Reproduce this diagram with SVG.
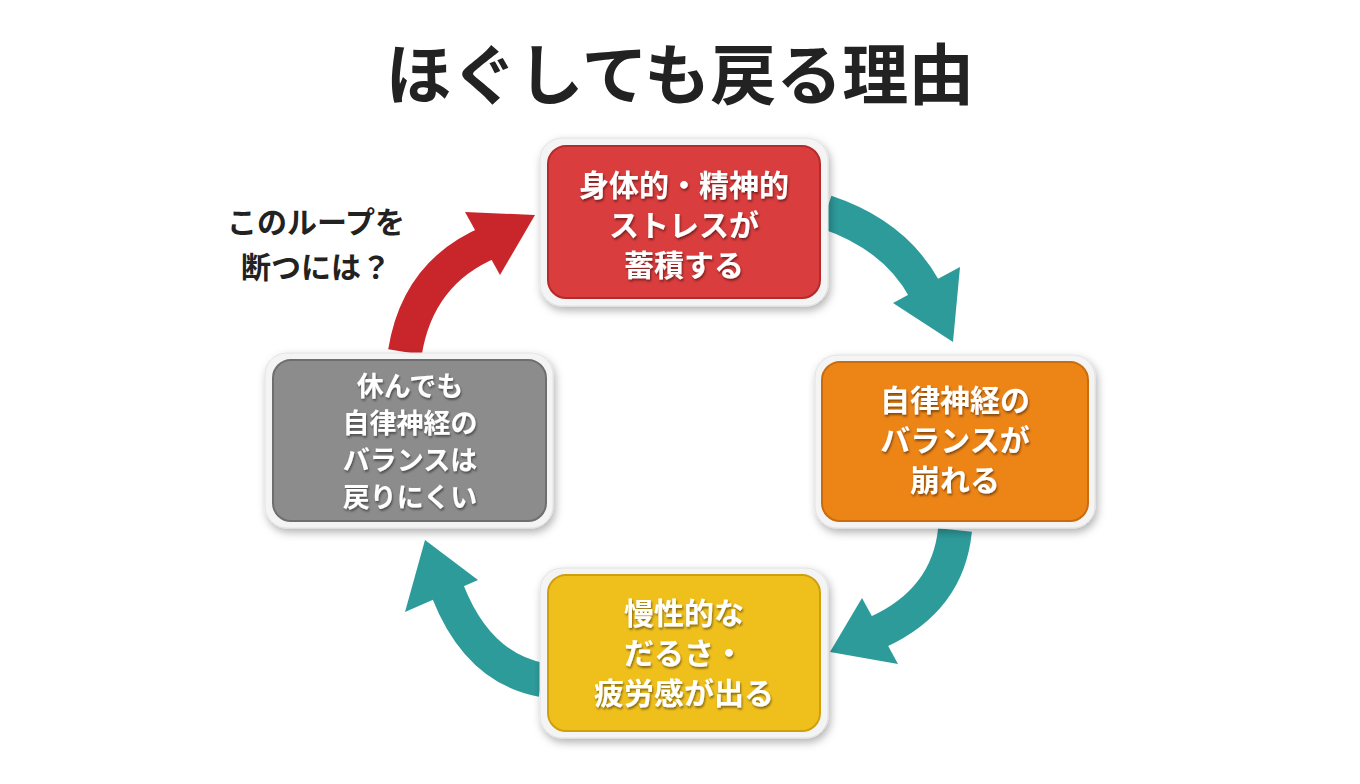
<svg xmlns="http://www.w3.org/2000/svg" width="1360" height="784" viewBox="0 0 1360 784">
<defs>
<filter id="sh" x="-20%" y="-20%" width="140%" height="140%"><feDropShadow dx="2" dy="4" stdDeviation="4" flood-opacity="0.3"/></filter>
<filter id="ts" x="-10%" y="-10%" width="120%" height="130%"><feDropShadow dx="1" dy="2" stdDeviation="1.2" flood-opacity="0.45"/></filter>
</defs>
<style>
text{font-family:"Noto Sans CJK JP","Noto Sans CJK SC",sans-serif;font-weight:bold;text-anchor:middle}
.t{font-size:30px;fill:#fff}
.g{font-size:27px;fill:#fff}
.outer{fill:#f4f4f4;stroke:#e2e2e2;stroke-width:1}
.band{fill:none;stroke-width:34}
</style>
<rect width="1360" height="784" fill="#fff"/>
<text x="680" y="99" font-size="66" fill="#222">ほぐしても戻る理由</text>
<text x="316" y="233" font-size="30" fill="#222">このループを</text>
<text x="316" y="278" font-size="30" fill="#222">断つには？</text>
<g id="connectors">
<path class="band" stroke="#2e9b9b" d="M826,212 Q895,235 925,290"/>
<polygon fill="#2e9b9b" points="893,303 960,267 953,342"/>
<path class="band" stroke="#2e9b9b" d="M955,530 Q948,600 878,632"/>
<polygon fill="#2e9b9b" points="862,598 898,664 830,652"/>
<path class="band" stroke="#2e9b9b" d="M542,680 Q478,668 448,592"/>
<polygon fill="#2e9b9b" points="405,612 478,580 425,540"/>
<path class="band" stroke="#c9262b" d="M405,352 Q418,272 490,242"/>
<polygon fill="#c9262b" points="465,212 500,275 535,215"/>
</g>
<g id="n1" filter="url(#sh)"><rect class="outer" x="540" y="138" width="288" height="168" rx="22"/><rect x="548" y="146" width="272" height="152" rx="18" fill="#d93c3c" stroke="#b52a2a" stroke-width="2"/>
<g filter="url(#ts)"><text class="t" x="684" y="196">身体的・精神的</text><text class="t" x="684" y="236">ストレスが</text><text class="t" x="684" y="276">蓄積する</text></g></g>
<g id="n2" filter="url(#sh)"><rect class="outer" x="815" y="355" width="280" height="173" rx="22"/><rect x="822" y="362" width="266" height="159" rx="18" fill="#ec8418" stroke="#c96c10" stroke-width="2"/>
<g filter="url(#ts)"><text class="t" x="955" y="411">自律神経の</text><text class="t" x="955" y="451">バランスが</text><text class="t" x="955" y="491">崩れる</text></g></g>
<g id="n3" filter="url(#sh)"><rect class="outer" x="540" y="568" width="288" height="170" rx="22"/><rect x="548" y="575" width="272" height="156" rx="18" fill="#efbf1e" stroke="#cf9f10" stroke-width="2"/>
<g filter="url(#ts)"><text class="t" x="684" y="624">慢性的な</text><text class="t" x="684" y="664">だるさ・</text><text class="t" x="684" y="704">疲労感が出る</text></g></g>
<g id="n4" filter="url(#sh)"><rect class="outer" x="265" y="353" width="288" height="175" rx="22"/><rect x="273" y="360" width="273" height="161" rx="18" fill="#8c8c8c" stroke="#6e6e6e" stroke-width="2"/>
<g filter="url(#ts)"><text class="g" x="410" y="396">休んでも</text><text class="g" x="410" y="433">自律神経の</text><text class="g" x="410" y="470">バランスは</text><text class="g" x="410" y="507">戻りにくい</text></g></g>
</svg>
